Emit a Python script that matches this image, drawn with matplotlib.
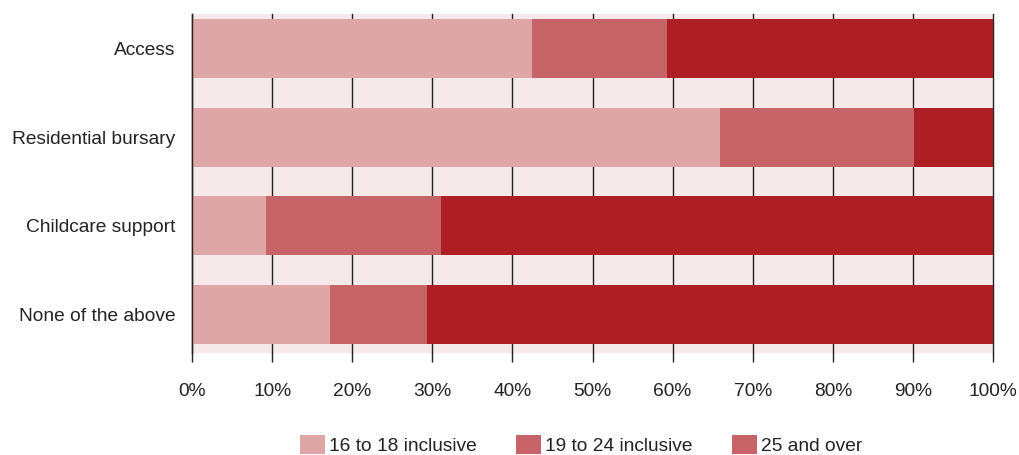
import matplotlib
matplotlib.use("Agg")
import matplotlib.pyplot as plt
from matplotlib.patches import Patch
import numpy as np

categories = ["Access", "Residential bursary", "Childcare support", "None of the above"]
series_names = ["16 to 18 inclusive", "19 to 24 inclusive", "25 and over"]
age_16_18 = [42.4, 65.9, 9.2, 17.2]
age_19_24 = [16.9, 24.2, 21.9, 12.2]
age_25_over = [40.7, 9.9, 68.9, 70.6]
xtick_values = [0, 10, 20, 30, 40, 50, 60, 70, 80, 90, 100]
xtick_labels = [f"{v}%" for v in xtick_values]

colors = ["#dfa6a7", "#c66467", "#ad1f24"]
legend_colors = ["#dfa6a7", "#c66467", "#c66467"]
bg = "#f5e9e9"
text_color = "#222222"
fs = 13.8

plt.rcParams['font.family'] = ['Liberation Sans', 'DejaVu Sans']

fig = plt.figure(figsize=(10.19, 4.55), dpi=100)
ax = fig.add_axes([192/1019, (455-353)/455, (993-192)/1019, (353-14)/455])
ax.set_facecolor(bg)

y = np.arange(len(categories))
left = np.zeros(len(categories))
for vals, c in zip([age_16_18, age_19_24, age_25_over], colors):
    ax.barh(y, vals, left=left, height=0.665, color=c, linewidth=0, zorder=3)
    left += np.array(vals)

ax.set_xlim(0, 100)
ax.set_ylim(3.434, -0.389)
ax.set_yticks(y)
ax.set_yticklabels(categories, fontsize=fs, color=text_color)
ax.set_xticks(xtick_values)
ax.set_xticklabels(xtick_labels, fontsize=fs, color=text_color)
ax.tick_params(axis='y', length=0, pad=12)
ax.tick_params(axis='x', length=6.5, width=1.0, color="#222222", pad=15)
ax.grid(axis='x', color="#222222", linewidth=1.0, zorder=1)
for gl in ax.get_xgridlines():
    gl.set_clip_on(False)
ax.set_axisbelow(True)
for s in ["top", "right", "bottom"]:
    ax.spines[s].set_visible(False)
ax.spines["left"].set_color("#222222")
ax.spines["left"].set_linewidth(1.0)
ax.spines["left"].set_zorder(4)

handles = [Patch(facecolor=c, edgecolor='none', label=n) for c, n in zip(legend_colors, series_names)]
fig.legend(handles=handles, loc='center', bbox_to_anchor=(581/1019, (455-445)/455),
           ncol=3, frameon=False, fontsize=fs, handlelength=1.3, handleheight=1.15,
           handletextpad=0.2, columnspacing=2.08, labelcolor=text_color, borderaxespad=0,
           borderpad=0)

fig.savefig("out.png", dpi=100)
